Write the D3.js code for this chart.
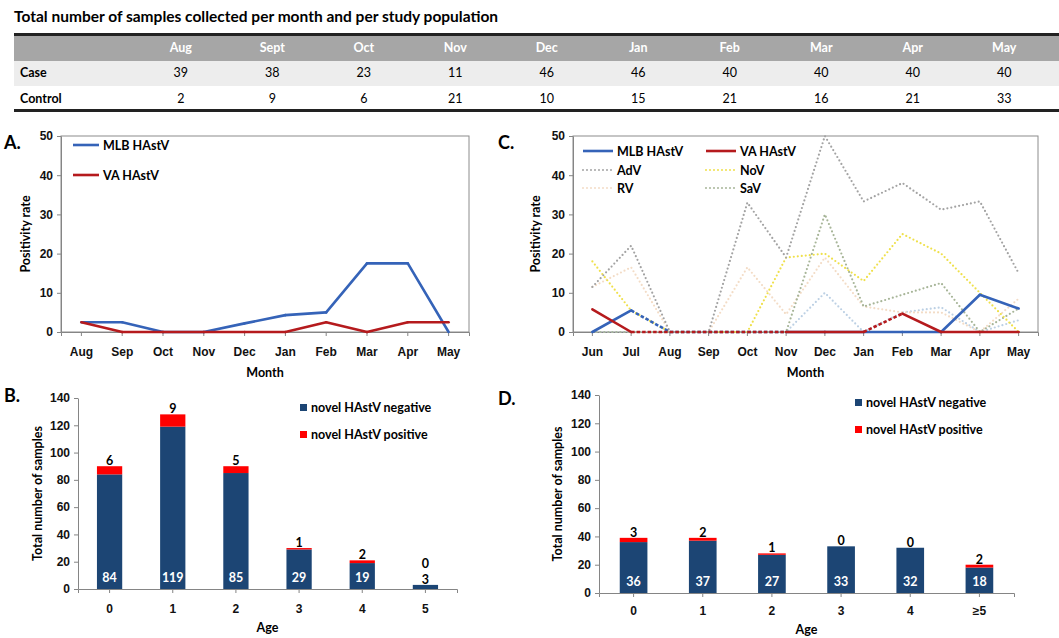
<!DOCTYPE html>
<html>
<head>
<meta charset="utf-8">
<script src="https://cdn.jsdelivr.net/npm/d3@7"></script>
<style>
body { margin: 0; background: #fff; }
svg { font-family: Lato, "Open Sans", sans-serif; }
</style>
</head>
<body>
<svg id="fig" width="1059" height="638"></svg>
<script>
// ---- table data ----
const tableMonths = ["Aug","Sept","Oct","Nov","Dec","Jan","Feb","Mar","Apr","May"];
const caseCounts = [39,38,23,11,46,46,40,40,40,40];
const controlCounts = [2,9,6,21,10,15,21,16,21,33];

// ---- panel A ----
const monthsA = ["Aug","Sep","Oct","Nov","Dec","Jan","Feb","Mar","Apr","May"];
const mlbA = [2.5,2.5,0,0,2.2,4.3,5,17.5,17.5,0];
const vaA = [2.5,0,0,0,0,0,2.5,0,2.5,2.5];

// ---- panel C ----
const monthsC = ["Jun","Jul","Aug","Sep","Oct","Nov","Dec","Jan","Feb","Mar","Apr","May"];
const mlbC = [0,5.5,0,0,0,0,0,0,0,0,9.5,6];
const vaC = [5.8,0,0,0,0,0,0,0,4.7,0,0,0];
const advC = [11.5,22,0,0,33,19,50,33.3,38,31.2,33.3,15];
const novC = [18,5.5,0,0,0,19,20,13,25,20,10,0];
const rvC = [11.5,16.5,0,0,16.5,4.5,19,6.5,5,5,0,8.5];
const savC = [0,0,0,0,0,0,30,6.5,9.5,12.5,0,6];
const otherC = [0,0,0,0,0,0,10,0,5,6.3,0,3];
// segments (by start month index) without samples, drawn dashed
const mlbGapsC = [1,2,3,4];
const vaGapsC = [1,2,3,4,7];

// ---- panels B and D ----
const agesB = ["0","1","2","3","4","5"];
const negB = [84,119,85,29,19,3];
const posB = [6,9,5,1,2,0];
const agesD = ["0","1","2","3","4","≥5"];
const negD = [36,37,27,33,32,18];
const posD = [3,2,1,0,0,2];

const svg = d3.select('#fig');
const BLUE = '#3563b8', RED = '#b51a1d', NAVY = '#1c4574', BRIGHT = '#ff0000';

function axisStyle(sel, size) {
    sel.selectAll('text')
        .attr('font-size', size || 12)
        .attr('font-weight', 'bold')
        .attr('fill', '#111');
    sel.selectAll('line, path').attr('stroke', '#858585');
}

function boldText(x, y, txt, size, anchor) {
    return svg.append('text')
        .attr('x', x).attr('y', y)
        .attr('font-size', size)
        .attr('font-weight', 'bold')
        .attr('text-anchor', anchor || 'start')
        .text(txt);
}

// ---- table ----
boldText(14, 22, 'Total number of samples collected per month and per study population', 15.5);

const tx = d3.scaleBand().domain(tableMonths).range([135, 1050]);
const tcx = m => tx(m) + tx.bandwidth() / 2;

svg.append('rect').attr('x', 14).attr('y', 35).attr('width', 1045).attr('height', 26).attr('fill', '#a6a6a6');
svg.append('rect').attr('x', 14).attr('y', 61).attr('width', 1045).attr('height', 25).attr('fill', '#ededed');
svg.append('line').attr('x1', 14).attr('x2', 1059).attr('y1', 34.5).attr('y2', 34.5).attr('stroke', '#222').attr('stroke-width', 3);
svg.append('line').attr('x1', 14).attr('x2', 1059).attr('y1', 110.5).attr('y2', 110.5).attr('stroke', '#222').attr('stroke-width', 3);

svg.append('g').selectAll('text')
    .data(tableMonths)
    .join('text')
    .attr('x', d => tcx(d))
    .attr('y', 52)
    .attr('text-anchor', 'middle')
    .attr('font-size', 12.5)
    .attr('font-weight', 'bold')
    .attr('fill', '#fff')
    .text(d => d);

const tableRows = [
    { label: 'Case', vals: caseCounts, y: 77 },
    { label: 'Control', vals: controlCounts, y: 103 }
];
tableRows.forEach(r => {
    boldText(20, r.y, r.label, 12.5);
    svg.append('g').selectAll('text')
        .data(r.vals)
        .join('text')
        .attr('x', (d, i) => tcx(tableMonths[i]))
        .attr('y', r.y)
        .attr('text-anchor', 'middle')
        .attr('font-size', 12.5)
        .text(d => d);
});

// ---- line panels ----
function linePanel(p) {
    const x = d3.scaleBand().domain(p.cats).range([p.left, p.right]);
    const y = d3.scaleLinear().domain([0, 50]).range([p.bottom, p.top]);
    const px = c => x(c) + x.bandwidth() / 2;
    const g = svg.append('g');

    g.append('rect')
        .attr('x', p.left).attr('y', p.top)
        .attr('width', p.right - p.left).attr('height', p.bottom - p.top)
        .attr('fill', 'none').attr('stroke', '#8c8c8c');

    g.append('g')
        .attr('transform', `translate(${p.left},0)`)
        .call(d3.axisLeft(y).tickValues([0,10,20,30,40,50]).tickSize(4).tickSizeOuter(0).tickPadding(4))
        .call(axisStyle);

    g.append('g')
        .attr('transform', `translate(0,${p.bottom})`)
        .call(d3.axisBottom(x).tickSize(4).tickSizeOuter(4).tickPadding(11))
        .call(axisStyle);

    const line = d3.line().x(d => px(d.c)).y(d => y(d.v));

    p.series.forEach(s => {
        const pts = s.values.map((v, i) => ({ c: p.cats[i], v: v }));
        if (s.dotted) {
            g.append('path')
                .attr('d', line(pts))
                .attr('fill', 'none')
                .attr('stroke', s.color)
                .attr('stroke-width', 2.2)
                .attr('stroke-linecap', 'round')
                .attr('stroke-dasharray', '0,4');
        } else {
            const gaps = s.gaps || [];
            for (let i = 0; i < pts.length - 1; i++) {
                const dashed = gaps.includes(i);
                g.append('path')
                    .attr('d', line([pts[i], pts[i + 1]]))
                    .attr('fill', 'none')
                    .attr('stroke', s.color)
                    .attr('stroke-width', 2.6)
                    .attr('stroke-linecap', dashed ? 'butt' : 'round')
                    .attr('stroke-dasharray', dashed ? '3.5,2' : null);
            }
        }
    });

    // legend
    p.legend.forEach(l => {
        g.append('line')
            .attr('x1', l.x).attr('x2', l.x + l.len)
            .attr('y1', l.y).attr('y2', l.y)
            .attr('stroke', l.color)
            .attr('stroke-width', l.dotted ? 2 : 2.6)
            .attr('stroke-linecap', l.dotted ? 'round' : 'butt')
            .attr('stroke-dasharray', l.dotted ? '0,4' : null);
        g.append('text')
            .attr('x', l.x + l.len + 4).attr('y', l.y + 4.5)
            .attr('font-size', 12.5).attr('font-weight', 'bold')
            .text(l.name);
    });

    g.append('text')
        .attr('transform', `translate(${p.ylabelX},${(p.top + p.bottom) / 2}) rotate(-90)`)
        .attr('text-anchor', 'middle')
        .attr('font-size', 12.5).attr('font-weight', 'bold')
        .text('Positivity rate');

    g.append('text')
        .attr('x', (p.left + p.right) / 2).attr('y', 377)
        .attr('text-anchor', 'middle')
        .attr('font-size', 12.5).attr('font-weight', 'bold')
        .text('Month');
}

linePanel({
    cats: monthsA, left: 61, right: 469, top: 136, bottom: 332, ylabelX: 30,
    series: [
        { values: mlbA, color: BLUE },
        { values: vaA, color: RED }
    ],
    legend: [
        { name: 'MLB HAstV', color: BLUE, x: 73, y: 145, len: 26 },
        { name: 'VA HAstV', color: RED, x: 73, y: 175, len: 26 }
    ]
});

linePanel({
    cats: monthsC, left: 573, right: 1038, top: 136, bottom: 332, ylabelX: 540,
    series: [
        { values: otherC, color: '#bcd0e4', dotted: true },
        { values: rvC, color: '#f3dcc6', dotted: true },
        { values: savC, color: '#a7b598', dotted: true },
        { values: novC, color: '#efe04a', dotted: true },
        { values: advC, color: '#a3a3a3', dotted: true },
        { values: mlbC, color: BLUE, gaps: mlbGapsC },
        { values: vaC, color: RED, gaps: vaGapsC }
    ],
    legend: [
        { name: 'MLB HAstV', color: BLUE, x: 583, y: 151, len: 30 },
        { name: 'VA HAstV', color: RED, x: 706, y: 151, len: 30 },
        { name: 'AdV', color: '#a3a3a3', x: 583, y: 170, len: 30, dotted: true },
        { name: 'NoV', color: '#efe04a', x: 706, y: 170, len: 30, dotted: true },
        { name: 'RV', color: '#f3dcc6', x: 583, y: 188, len: 30, dotted: true },
        { name: 'SaV', color: '#a7b598', x: 706, y: 188, len: 30, dotted: true }
    ]
});

// ---- bar panels ----
function barPanel(p) {
    const x = d3.scaleBand().domain(p.cats).range([p.left, p.right]).paddingInner(0.6).paddingOuter(0.3);
    const y = d3.scaleLinear().domain([0, 140]).range([p.bottom, p.top]);
    const data = p.cats.map((c, i) => ({ c: c, neg: p.neg[i], pos: p.pos[i] }));
    const g = svg.append('g');

    g.append('g')
        .attr('transform', `translate(${p.left},0)`)
        .call(d3.axisLeft(y).tickValues(d3.range(0, 141, 20)).tickSize(4).tickSizeOuter(0).tickPadding(4))
        .call(axisStyle);

    g.append('g')
        .attr('transform', `translate(0,${p.bottom})`)
        .call(d3.axisBottom(x).tickSize(4).tickSizeOuter(4).tickPadding(p.xpad))
        .call(axisStyle);

    g.selectAll('rect.neg')
        .data(data)
        .join('rect')
        .attr('class', 'neg')
        .attr('x', d => x(d.c))
        .attr('width', x.bandwidth())
        .attr('y', d => y(d.neg))
        .attr('height', d => y(0) - y(d.neg))
        .attr('fill', NAVY);

    g.selectAll('rect.pos')
        .data(data)
        .join('rect')
        .attr('class', 'pos')
        .attr('x', d => x(d.c))
        .attr('width', x.bandwidth())
        .attr('y', d => y(d.neg + d.pos))
        .attr('height', d => y(d.neg) - y(d.neg + d.pos))
        .attr('fill', BRIGHT);

    data.forEach(d => {
        const cx = x(d.c) + x.bandwidth() / 2;
        const inside = y(0) - y(d.neg) > 20;
        let topY = y(d.neg + d.pos) - 1;
        if (inside) {
            g.append('text')
                .attr('x', cx).attr('y', y(0) - 7.5)
                .attr('text-anchor', 'middle')
                .attr('font-size', 12.5).attr('font-weight', 'bold')
                .attr('fill', '#fff')
                .text(d.neg);
        } else {
            g.append('text')
                .attr('x', cx).attr('y', topY)
                .attr('text-anchor', 'middle')
                .attr('font-size', 12.5).attr('font-weight', 'bold')
                .text(d.neg);
            topY -= 16;
        }
        g.append('text')
            .attr('x', cx).attr('y', topY)
            .attr('text-anchor', 'middle')
            .attr('font-size', 12.5).attr('font-weight', 'bold')
            .text(d.pos);
    });

    // legend
    [{ name: 'novel HAstV negative', color: NAVY, y: p.legY },
     { name: 'novel HAstV positive', color: BRIGHT, y: p.legY + 27 }].forEach(l => {
        g.append('rect')
            .attr('x', p.legX).attr('y', l.y - 4)
            .attr('width', 7).attr('height', 7)
            .attr('fill', l.color);
        g.append('text')
            .attr('x', p.legX + 11).attr('y', l.y + 4)
            .attr('font-size', 12.5).attr('font-weight', 'bold')
            .text(l.name);
    });

    g.append('text')
        .attr('transform', `translate(${p.ylabelX},${(p.top + p.bottom) / 2}) rotate(-90)`)
        .attr('text-anchor', 'middle')
        .attr('font-size', 12.5).attr('font-weight', 'bold')
        .text('Total number of samples');

    g.append('text')
        .attr('x', (p.left + p.right) / 2).attr('y', p.ageY)
        .attr('text-anchor', 'middle')
        .attr('font-size', 12.5).attr('font-weight', 'bold')
        .text('Age');
}

barPanel({
    cats: agesB, neg: negB, pos: posB,
    left: 78, right: 457, top: 398, bottom: 589, xpad: 11,
    legX: 300, legY: 408, ylabelX: 42, ageY: 632
});

barPanel({
    cats: agesD, neg: negD, pos: posD,
    left: 599, right: 1014, top: 395, bottom: 593, xpad: 9,
    legX: 855, legY: 403, ylabelX: 562, ageY: 634
});

// panel letters
boldText(4, 149, 'A.', 18);
boldText(498, 149, 'C.', 18);
boldText(4, 402, 'B.', 18);
boldText(498, 405, 'D.', 18);
</script>
</body>
</html>
